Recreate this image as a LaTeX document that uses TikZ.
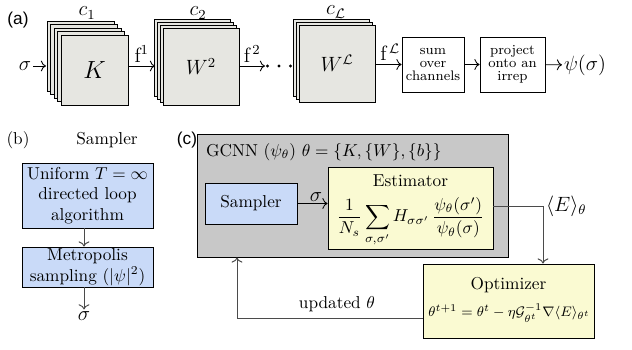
\documentclass[tikz,border=0pt]{standalone}
\usepackage{fontspec}
\usepackage{amsmath,amssymb}
\newfontfamily\hvfont{Liberation Sans}
\usetikzlibrary{arrows.meta}
\definecolor{stackfill}{RGB}{230,230,225}
\definecolor{bluefill}{RGB}{201,218,248}
\definecolor{yellowfill}{RGB}{250,250,210}
\definecolor{grayfill}{RGB}{200,200,200}
\definecolor{linegray}{RGB}{75,75,75}
\def\pxu{0.58pt}
\begin{document}
\begin{tikzpicture}[x=\pxu,y=-\pxu,
  layer/.style={draw=black,fill=stackfill,line width=0.5pt},
  plainbox/.style={draw=black,fill=white,line width=0.5pt,align=center,font=\footnotesize,inner sep=0pt},
  bluebox/.style={draw=black,fill=bluefill,line width=0.5pt,align=center,inner sep=0pt},
  yellowbox/.style={draw=black,fill=yellowfill,line width=0.5pt,align=center,inner sep=0pt},
  conn/.style={-{To[length=3pt]},line width=0.5pt},
  gconn/.style={-{To[length=3pt]},line width=0.55pt,draw=linegray},
  panel/.style={font=\hvfont},
  clabel/.style={font=\large,inner sep=0pt},
]
\useasboundingbox (0,0) rectangle (632,350);

% ---------- panel (a) ----------
\node[panel] (la) at (18,20) {(a)};

% stack K
\foreach \k in {4,3,2,1}{
  \draw[layer] (61-3.5*\k,35-3.5*\k) rectangle (128-3.5*\k,105-3.5*\k);
}
\node[layer,minimum width=67*\pxu,minimum height=70*\pxu,inner sep=0pt,font=\Large] (K) at (94.5,70) {$K$};
\node[clabel] (c1) at (87,13) {$c_1$};

% stack W2
\foreach \k in {3,2,1}{
  \draw[layer] (163-2.7*\k,28-2.7*\k) rectangle (239-2.7*\k,105-2.7*\k);
}
\node[layer,minimum width=76*\pxu,minimum height=77*\pxu,inner sep=0pt,font=\large] (W2) at (201,66.5) {$W^2$};
\node[clabel] (c2) at (198,13) {$c_2$};

% stack WL
\foreach \k in {2,1}{
  \draw[layer] (299-3*\k,25-3*\k) rectangle (375-3*\k,102-3*\k);
}
\node[layer,minimum width=76*\pxu,minimum height=77*\pxu,inner sep=0pt,font=\large] (WL) at (337,63.5) {$W^{\mathcal{L}}$};
\node[clabel] (cL) at (336,12) {$c_{\mathcal{L}}$};

\node[font=\large,inner sep=1pt] (sig) at (25,66) {$\sigma$};
\coordinate (Kin) at (46,66);
\draw[conn] (sig) -- (Kin);

\coordinate (W2in) at (155,66);
\draw[conn] (K.east |- W2in) -- node[above,font=\large,inner sep=2pt] (f1) {f$^1$} (W2in);

\coordinate (dots) at (265,66);
\draw[conn] (W2.east |- dots) -- node[above,font=\large,inner sep=2pt] (f2) {f$^{\,2}$} (dots);
\fill (267.5,66) circle (1pt);
\fill (279,66) circle (1pt);
\fill (290.5,66) circle (1pt);

\node[plainbox,minimum width=62*\pxu,minimum height=55*\pxu] (sum) at (433,64.5) {sum\\[-2pt]over\\[-2pt]channels};
\node[plainbox,minimum width=65*\pxu,minimum height=55*\pxu] (proj) at (512.5,64.5) {project\\[-2pt]onto an\\[-2pt]irrep};
\draw[conn] (WL.east |- sum.west) -- node[above,font=\large,inner sep=2pt,xshift=1pt] (fL) {f$^{\,\mathcal{L}}$} (sum.west);
\draw[conn] (sum) -- (proj);
\node[font=\large,inner sep=1pt,anchor=west] (psi) at (562,65) {$\psi(\sigma)$};
\draw[conn] (proj) -- (psi);

% ---------- panel (b) ----------
\node (lb) at (18,140) {(b)};
\node (samplertitle) at (107,140) {Sampler};
\node[bluebox,minimum width=131*\pxu,minimum height=65*\pxu] (uni) at (87.5,195.5) {Uniform $T=\infty$\\directed loop\\algorithm};
\node[bluebox,minimum width=131*\pxu,minimum height=40*\pxu] (metro) at (87.5,267) {Metropolis\\sampling $(|\psi|^2)$};
\draw[gconn] (uni.south -| 84,0) -- (metro.north -| 84,0);
\node[inner sep=1pt,font=\large] (sigb) at (84,316) {$\sigma$};
\draw[gconn] (metro.south -| 84,0) -- (sigb.north);

% ---------- panel (c) ----------
\node[panel] (lc) at (187,140) {(c)};
\node[draw=black,fill=grayfill,line width=0.5pt,minimum width=311*\pxu,minimum height=123*\pxu,inner sep=0pt] (gcnn) at (352.5,195.5) {};
\node[anchor=west] (gcnntext) at (200,152) {GCNN $(\psi_\theta)$ $\theta=\{K,\{W\},\{b\}\}$};
\node[bluebox,minimum width=92*\pxu,minimum height=41*\pxu] (samp) at (251,203.5) {Sampler};
\node[yellowbox,minimum width=165*\pxu,minimum height=82*\pxu] (est) at (410.5,208) {};
\node (esttitle) at (410.5,181) {Estimator};
\node (estform) at (410.5,222) {$\displaystyle \frac{1}{N_s}\sum_{\sigma,\sigma'} H_{\sigma\sigma'}\,\frac{\psi_\theta(\sigma')}{\psi_\theta(\sigma)}$};
\draw[conn] (samp.east) -- node[above,font=\large,inner sep=1pt,xshift=2pt] (sigc) {$\sigma$} (samp.east -| est.west);

\node[yellowbox,minimum width=171*\pxu,minimum height=74*\pxu] (opt) at (508.5,301) {};
\node (opttitle) at (508.5,285) {Optimizer};
\node[inner sep=0pt,anchor=west] (optform) at (428,313) {\fontsize{8.4}{10}\selectfont$\theta^{t+1}=\theta^{t}-\eta\mathcal{G}_{\theta^t}^{-1}\nabla\langle E\rangle_{\theta^t}$};

\coordinate (ecorner) at (543,206);
\draw[gconn] (est.east |- ecorner) -- (ecorner) -- (ecorner |- opt.north);
\node[anchor=west,font=\large,inner sep=1pt] (Elabel) at (544,206) {$\langle E\rangle_\theta$};

\coordinate (ucorner) at (237,318);
\draw[gconn] (opt.west |- ucorner) -- (ucorner) -- (ucorner |- gcnn.south);
\node (upd) at (337,304) {updated $\theta$};
\end{tikzpicture}
\end{document}
